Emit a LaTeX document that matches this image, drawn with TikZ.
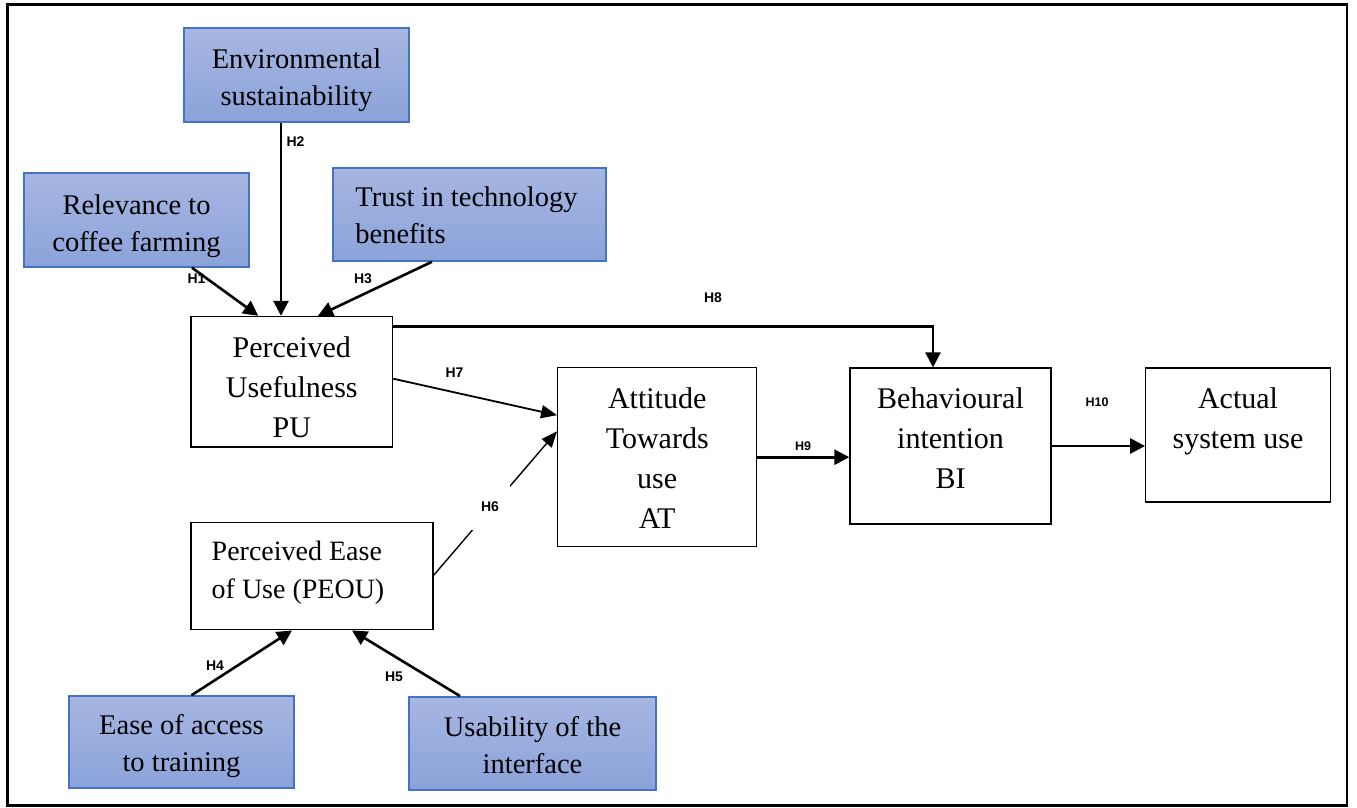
\documentclass[tikz,border=0pt]{standalone}
\usepackage{fontspec}
\setmainfont{Liberation Serif}
\newfontfamily\hypfont{Liberation Sans}
\usetikzlibrary{arrows.meta,calc}
\definecolor{boxblueTop}{HTML}{A7B6E2}
\definecolor{boxblueBot}{HTML}{8BA3D9}
\definecolor{boxedge}{HTML}{4472C4}

\begin{document}
\begin{tikzpicture}[x=1pt,y=-1pt,
  construct/.style={draw=boxedge, line width=1.5pt, top color=boxblueTop,
    bottom color=boxblueBot, inner sep=0pt},
  latent/.style={draw=black, line width=1.3pt, fill=white, inner sep=0pt},
  ctext/.style={inner sep=0pt, align=center, font=\fontsize{28.5}{37}\selectfont},
  ltext/.style={inner sep=0pt, align=center, font=\fontsize{30}{40}\selectfont},
  hyp/.style={font=\hypfont\bfseries\fontsize{14}{14}\selectfont, inner sep=1pt},
  hypsmall/.style={font=\hypfont\bfseries\fontsize{12.5}{12.5}\selectfont, inner sep=1pt},
  strong/.style={line width=2.6pt, -{Triangle[length=15pt,width=15pt]}},
  weak/.style={line width=1.8pt, -{Triangle[length=16pt,width=13pt]}},
  faint/.style={line width=1.4pt, -{Triangle[length=16pt,width=13pt]}}
]
% canvas and outer frame
\fill[white] (0,0) rectangle (1357,807);
\useasboundingbox (0,0) rectangle (1357,807);
\draw[line width=2.5pt] (7.5,4.3) rectangle (1347,805.5);

% external factors (shaded boxes)
\node[construct, minimum width=225pt, minimum height=94pt] (env) at (296.5,75) {};
\node[ctext] (env-t) at ([yshift=-5pt]env.center) {Environmental\\sustainability};
\node[construct, minimum width=225pt, minimum height=94pt] (rel) at (136.5,220) {};
\node[ctext] (rel-t) at ([yshift=-6pt]rel.center) {Relevance to\\coffee farming};
\node[construct, minimum width=273pt, minimum height=93pt] (trust) at (469.5,214.5) {};
\node[ctext, align=left] (trust-t) at ([xshift=-3pt,yshift=-1pt]trust.center)
  {Trust in technology\\benefits};
\node[construct, minimum width=225pt, minimum height=92pt] (ease) at (181.5,742) {};
\node[ctext] (ease-t) at ([yshift=-4pt]ease.center) {Ease of access\\to training};
\node[construct, minimum width=247pt, minimum height=93pt] (usa) at (532.5,743.3) {};
\node[ctext] (usa-t) at ([yshift=-1.5pt]usa.center) {Usability of the\\interface};

% TAM constructs
\node[latent, minimum width=201.5pt, minimum height=130.5pt] (pu) at (291.8,381.7) {};
\node[ltext] (pu-t) at ([yshift=-6pt]pu.center) {Perceived\\Usefulness\\PU};
\node[latent, minimum width=199pt, minimum height=179pt] (at) at (657.2,457.2) {};
\node[ltext] (at-t) at ([yshift=-1pt]at.center) {Attitude\\Towards\\use\\AT};
\node[latent, minimum width=201pt, minimum height=156pt] (bi) at (950.5,446) {};
\node[ltext] (bi-t) at ([yshift=8pt]bi.center) {Behavioural\\intention\\BI};
\node[latent, minimum width=184.5pt, minimum height=134pt] (act) at (1238,435) {};
\node[ltext] (act-t) at ([yshift=14pt]act.center) {Actual\\system use};
\node[latent, minimum width=242pt, minimum height=107pt] (peou) at (312,576.3) {};
\node[ltext, align=left, anchor=west, font=\fontsize{28}{38}\selectfont]
  (peou-t) at (211.5,573) {Perceived Ease\\of Use (PEOU)};

% hypothesised paths
\draw[strong] ([xshift=55.5pt]rel.south) -- ([xshift=-33.5pt]pu.north);
\draw[strong] ([xshift=-15.5pt]env.south) -- ([xshift=-10.8pt]pu.north);
\draw[strong] ([xshift=-37.5pt]trust.south) -- ([xshift=26.2pt]pu.north);
\draw[strong] ([yshift=55pt]pu.east) -| ([xshift=-17.5pt]bi.north);
\draw[weak] ([yshift=3pt]pu.east) -- ([yshift=42pt]at.west);
\draw[faint] ([yshift=1pt]peou.east) -- ([yshift=26pt]at.west);
\draw[strong] (at.east) -- (at.east -| bi.west);
\draw[strong] (bi.east) -- (bi.east -| act.west);
\draw[strong] ([xshift=10pt]ease.north) -- ([xshift=-20pt]peou.south);
\draw[strong] ([xshift=-72.5pt]usa.north) -- ([xshift=40pt]peou.south);

% hypothesis labels
\node[hyp] (h1) at (196.5,279) {H1};
\node[hyp] (h2) at (295.5,142) {H2};
\node[hyp] (h3) at (363,279) {H3};
\node[hyp] (h4) at (215,666) {H4};
\node[hyp] (h5) at (394,677) {H5};
\node[hyp, fill=white, minimum width=40pt, minimum height=46pt] (h6) at (490,507) {H6};
\node[hyp] (h7) at (454.5,373) {H7};
\node[hyp] (h8) at (713,298) {H8};
\node[hypsmall] (h9) at (803,446) {H9};
\node[hypsmall] (h10) at (1097,402) {H10};
\end{tikzpicture}
\end{document}
